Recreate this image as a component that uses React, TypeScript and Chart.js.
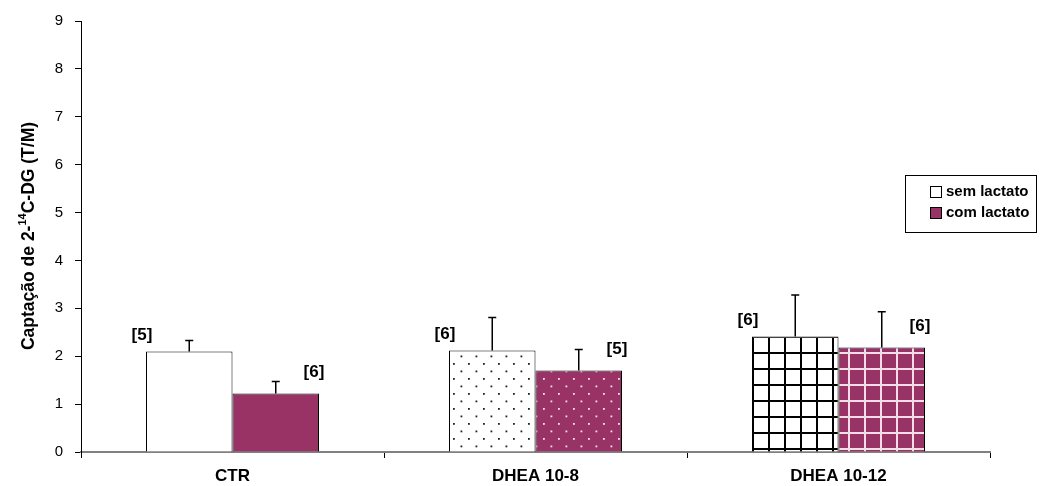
import React, { useEffect, useRef } from "react";
import { Chart, registerables } from "chart.js";

Chart.register(...registerables);

const categories = ["CTR", "DHEA 10-8", "DHEA 10-12"];
const seriesNames = ["sem lactato", "com lactato"];
const semValues = [2.1, 2.12, 2.41];
const semErrors = [0.23, 0.69, 0.87];
const comValues = [1.22, 1.7, 2.18];
const comErrors = [0.25, 0.44, 0.75];
const semN = ["[5]", "[6]", "[6]"];
const comN = ["[6]", "[5]", "[6]"];
const yTicks = [0, 1, 2, 3, 4, 5, 6, 7, 8, 9];
const yTitleParts = ["Captação de 2-", "14", "C-DG (T/M)"];

const PURPLE = "#993366";
const FONT = "'Liberation Sans', Arial, sans-serif";

function makeDots(bg: string, dot: string): CanvasPattern | string {
  const c = document.createElement("canvas");
  c.width = 15;
  c.height = 15;
  const ctx = c.getContext("2d");
  if (!ctx) return bg;
  ctx.fillStyle = bg;
  ctx.fillRect(0, 0, 15, 15);
  ctx.fillStyle = dot;
  ctx.fillRect(3, 3, 1.8, 1.8);
  ctx.fillRect(10.5, 10.5, 1.8, 1.8);
  return ctx.createPattern(c, "repeat") || bg;
}

function makeGrid(bg: string, line: string): CanvasPattern | string {
  const s = 16;
  const c = document.createElement("canvas");
  c.width = s;
  c.height = s;
  const ctx = c.getContext("2d");
  if (!ctx) return bg;
  ctx.fillStyle = bg;
  ctx.fillRect(0, 0, s, s);
  ctx.fillStyle = line;
  ctx.fillRect(0, 0, 2, s);
  ctx.fillRect(0, 0, s, 2);
  return ctx.createPattern(c, "repeat") || bg;
}

export default function App() {
  const ref = useRef<HTMLCanvasElement | null>(null);

  useEffect(() => {
    const canvas = ref.current;
    if (!canvas) return;

    const semBg = ["#ffffff", makeDots("#ffffff", "#222222"), makeGrid("#ffffff", "#000000")];
    const comBg = [PURPLE, makeDots(PURPLE, "#f4e4ec"), makeGrid(PURPLE, "#f2dde8")];
    const errs = [semErrors, comErrors];
    const ns = [semN, comN];

    const overlay = {
      id: "overlay",
      afterDatasetsDraw(chart: any) {
        const ctx = chart.ctx;
        const yScale = chart.scales.y;
        ctx.save();
        for (let d = 0; d < 2; d++) {
          const meta = chart.getDatasetMeta(d);
          const vals = chart.data.datasets[d].data as number[];
          meta.data.forEach((bar: any, i: number) => {
            const top = yScale.getPixelForValue(vals[i] + errs[d][i]);
            ctx.strokeStyle = "#000";
            ctx.lineWidth = 1.5;
            ctx.beginPath();
            ctx.moveTo(bar.x, bar.y);
            ctx.lineTo(bar.x, top);
            ctx.moveTo(bar.x - 4, top);
            ctx.lineTo(bar.x + 4, top);
            ctx.stroke();
            ctx.fillStyle = "#000";
            ctx.font = `bold 17px ${FONT}`;
            ctx.textAlign = "center";
            ctx.textBaseline = "middle";
            const half = bar.width / 2;
            if (d === 0) {
              ctx.fillText(ns[d][i], bar.x - half - 4, bar.y - 16);
            } else {
              ctx.fillText(ns[d][i], bar.x + half - 5, bar.y - 21);
            }
          });
        }
        ctx.restore();
      },
      afterDraw(chart: any) {
        const ctx = chart.ctx;
        ctx.save();
        // y axis title with superscript
        ctx.translate(29, 236);
        ctx.rotate(-Math.PI / 2);
        ctx.fillStyle = "#000";
        ctx.textBaseline = "middle";
        const mainFont = `bold 17.5px ${FONT}`;
        const supFont = `bold 11px ${FONT}`;
        ctx.font = mainFont;
        const w0 = ctx.measureText(yTitleParts[0]).width;
        const w2 = ctx.measureText(yTitleParts[2]).width;
        ctx.font = supFont;
        const w1 = ctx.measureText(yTitleParts[1]).width;
        let x = -(w0 + w1 + w2) / 2;
        ctx.textAlign = "left";
        ctx.font = mainFont;
        ctx.fillText(yTitleParts[0], x, 0);
        x += w0;
        ctx.font = supFont;
        ctx.fillText(yTitleParts[1], x, -6);
        x += w1;
        ctx.font = mainFont;
        ctx.fillText(yTitleParts[2], x, 0);
        ctx.restore();

        // legend
        ctx.save();
        ctx.strokeStyle = "#000";
        ctx.lineWidth = 1;
        ctx.fillStyle = "#fff";
        ctx.fillRect(905.5, 175.5, 131, 57);
        ctx.strokeRect(905.5, 175.5, 131, 57);
        const fills = ["#ffffff", PURPLE];
        ctx.font = `bold 15px ${FONT}`;
        ctx.textBaseline = "middle";
        ctx.textAlign = "left";
        seriesNames.forEach((name, k) => {
          const cy = 192 + k * 21;
          ctx.fillStyle = fills[k];
          ctx.fillRect(930.5, cy - 5.5, 11, 11);
          ctx.strokeRect(930.5, cy - 5.5, 11, 11);
          ctx.fillStyle = "#000";
          ctx.fillText(name, 946, cy);
        });
        ctx.restore();
      },
    };

    const chart = new Chart(canvas, {
      type: "bar",
      data: {
        labels: categories,
        datasets: [
          {
            label: seriesNames[0],
            data: semValues,
            backgroundColor: semBg as any,
            borderColor: "#000",
            borderWidth: 1,
            categoryPercentage: 0.571,
            barPercentage: 1,
          },
          {
            label: seriesNames[1],
            data: comValues,
            backgroundColor: comBg as any,
            borderColor: "#000",
            borderWidth: 1,
            categoryPercentage: 0.571,
            barPercentage: 1,
          },
        ],
      },
      options: {
        responsive: false,
        animation: false,
        layout: { padding: { left: 0, right: 70, top: 19, bottom: 0 } },
        plugins: {
          legend: { display: false },
          tooltip: { enabled: false },
        },
        scales: {
          x: {
            offset: true,
            afterFit: (s: any) => {
              s.height = 34;
            },
            grid: {
              offset: true,
              drawOnChartArea: false,
              tickLength: 6,
              color: "#000",
              lineWidth: 1,
            },
            border: { color: "#808080", width: 2 },
            ticks: {
              color: "#000",
              padding: 8,
              font: { family: FONT, size: 17, weight: "bold" },
            },
          },
          y: {
            min: 0,
            max: 9,
            afterFit: (s: any) => {
              s.width = 81;
            },
            afterBuildTicks: (s: any) => {
              s.ticks = yTicks.map((v) => ({ value: v }));
            },
            grid: {
              drawOnChartArea: false,
              tickLength: 6,
              color: "#000",
            },
            border: { color: "#000", width: 1 },
            ticks: {
              color: "#000",
              padding: 12,
              font: { family: FONT, size: 15 },
            },
          },
        },
      },
      plugins: [overlay],
    });

    return () => chart.destroy();
  }, []);

  return (
    <div style={{ position: "absolute", left: 0, top: 0, width: 1060, height: 486, background: "#fff" }}>
      <canvas ref={ref} width={1060} height={486} style={{ display: "block" }} />
    </div>
  );
}
